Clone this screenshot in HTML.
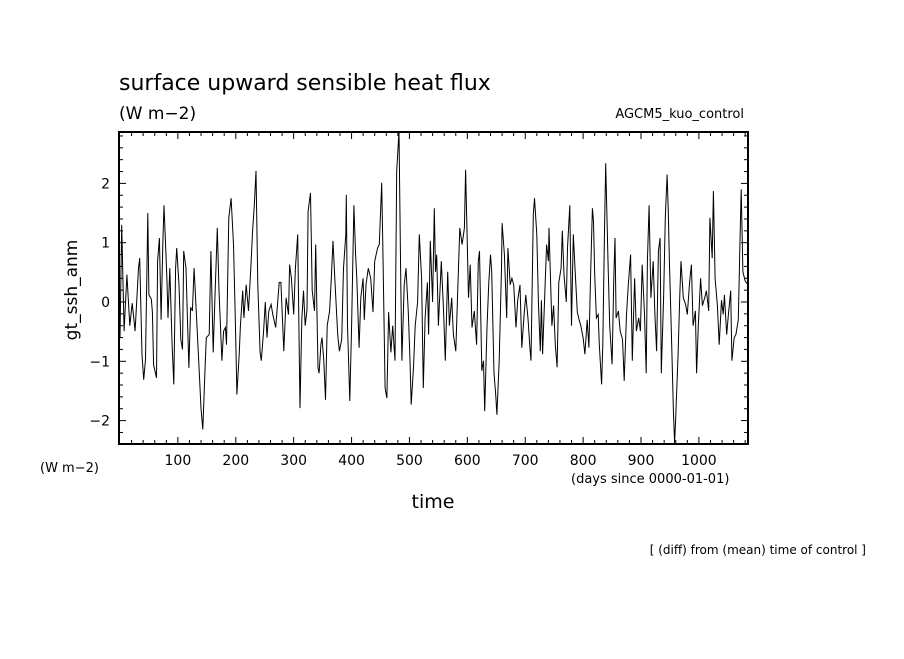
<!DOCTYPE html>
<html><head><meta charset="utf-8"><style>
body{margin:0;background:#fff;}
svg text{font-family:"DejaVu Sans","Liberation Sans",sans-serif;fill:#000;}
</style></head><body>
<svg width="904" height="654" viewBox="0 0 904 654" xmlns="http://www.w3.org/2000/svg">
<text x="119" y="90" font-size="22">surface upward sensible heat flux</text>
<text x="119" y="119" font-size="17">(W m−2)</text>
<text x="744" y="118" font-size="13" text-anchor="end">AGCM5_kuo_control</text>
<text transform="translate(77,290) rotate(-90)" font-size="17" text-anchor="middle">gt_ssh_anm</text>
<text x="40" y="472" font-size="13">(W m−2)</text>
<text x="571" y="483" font-size="13">(days since 0000-01-01)</text>
<text x="433" y="508" font-size="19" text-anchor="middle">time</text>
<text x="866" y="554" font-size="12" text-anchor="end">[ (diff) from (mean) time of control ]</text>
<g id="axes"></g>
<path id="series" fill="none" stroke="#000" stroke-width="1"/>
<rect x="119" y="132" width="629" height="312" fill="none" stroke="#000" stroke-width="2"/>
</svg>
<script>
const days=[0,3,7,12,17,21,26,32,34,38,41,44,48,50,54,56,58,63,65,68,71,74,76,81,83,86,90,93,96,98,102,105,108,110,114,117,119,122,125,128,132,136,140,143,147,149,154,157,161,164,168,171,176,179,182,184,188,192,196,199,202,206,208,212,214,218,222,226,229,232,235,238,242,244,248,251,254,257,261,264,269,272,275,278,283,287,291,293,296,300,303,307,309,311,314,317,320,323,325,329,332,336,338,342,344,347,349,352,355,358,362,365,368,371,376,379,383,386,390,391,393,397,400,404,407,409,413,416,420,422,425,429,433,437,440,445,448,452,454,458,461,464,468,471,475,478,482,485,487,491,494,498,501,503,507,510,514,517,521,524,527,531,533,536,540,543,545,547,550,555,559,562,566,569,573,576,580,583,587,591,595,597,602,605,608,612,616,619,621,625,628,630,634,637,640,642,646,649,651,655,659,660,664,668,670,674,677,680,684,687,691,694,698,701,705,708,710,714,716,720,723,726,728,730,734,737,740,741,746,749,752,755,758,762,764,767,771,773,777,780,783,786,790,793,796,800,803,807,810,813,816,818,820,823,826,828,832,834,837,839,843,846,850,853,855,857,861,864,868,871,875,878,882,885,889,892,896,899,902,906,909,911,914,917,921,924,927,930,933,935,939,942,945,947,949,953,956,958,960,964,967,969,973,977,980,984,987,990,994,996,999,1003,1006,1010,1013,1017,1019,1023,1025,1028,1032,1035,1039,1042,1044,1048,1051,1055,1057,1061,1064,1068,1071,1073,1076,1080,1084];
const values=[-0.61,1.3,-0.49,0.46,-0.4,-0.02,-0.49,0.57,0.74,-0.89,-1.31,-0.97,1.5,0.12,0.05,-0.17,-1.06,-1.28,0.69,1.08,-0.3,0.97,1.63,0.4,-0.27,0.57,-0.72,-1.39,0.57,0.91,0.29,-0.63,-0.8,0.86,0.57,-0.43,-1.11,-0.09,-0.15,0.57,-0.21,-0.99,-1.79,-2.15,-1.1,-0.6,-0.55,0.86,-0.85,0.05,1.25,0.19,-0.99,-0.49,-0.43,-0.72,1.42,1.75,0.97,-0.21,-1.56,-0.85,-0.4,0.19,-0.27,0.29,-0.15,0.57,1.2,1.63,2.21,0.29,-0.85,-0.99,-0.49,0,-0.6,-0.15,-0.04,-0.21,-0.43,-0.04,0.33,0.33,-0.83,0.07,-0.21,0.63,0.4,-0.21,0.57,1.14,-0.4,-1.79,-0.3,0.19,-0.4,-0.13,1.53,1.84,0.19,-0.15,0.97,-1.11,-1.2,-0.72,-0.6,-0.99,-1.65,-0.4,-0.15,0.4,1.03,0.4,-0.55,-0.83,-0.63,0.57,1.14,1.81,-0.4,-1.67,-0.4,1.63,0.8,0.4,-0.77,0.07,0.4,-0.3,0.29,0.57,0.4,-0.17,0.69,0.91,0.97,2.01,0.97,-1.45,-1.62,-0.17,-0.85,-0.4,-0.99,2.21,2.88,0.29,-0.99,0.29,0.57,-0.17,-0.99,-1.73,-1.1,-0.4,0,1.14,0.4,-1.45,-0.27,0.33,-0.55,1.03,0,1.58,0.51,0.8,-0.4,0.69,-0.17,-0.99,0.51,-0.4,0.07,-0.55,-0.83,0.07,1.25,0.97,1.25,2.23,0.07,0.63,-0.43,-0.15,-0.72,0.69,0.86,-1.16,-0.99,-1.84,-0.43,0.33,0.8,0.51,-1.2,-1.56,-1.9,-0.99,0.57,1.33,0.8,-0.27,0.91,0.29,0.4,0.29,-0.43,0.03,0.29,-0.77,-0.21,0.12,-0.3,-0.77,-0.99,1.47,1.75,1.14,-0.06,-0.83,0.03,-0.88,0.19,0.97,0.69,1.25,-0.4,-0.06,-0.72,-1.1,0.33,0.57,1.2,0.46,0,0.91,1.63,-0.4,1.14,0.57,-0.17,-0.3,-0.4,-0.6,-0.88,-0.3,-0.77,0.46,1.58,1.36,0.46,-0.27,-0.21,-0.72,-1.39,-0.72,1.2,2.34,0.69,-0.4,-1.05,0.4,1.08,-0.27,-0.15,-0.49,-0.63,-1.33,-0.21,0.29,0.8,-0.99,0.4,-0.49,-0.27,-0.49,0.63,-0.21,-1.2,0.69,1.63,0.07,0.69,-0.21,-0.83,0.86,1.08,-1.2,0.07,1.42,2.15,1.58,0.69,-0.72,-1.84,-2.38,-1.95,-0.88,0.12,0.69,0.07,-0.04,-0.21,0.33,0.63,-0.4,-0.15,-1.2,-0.4,0.4,-0.06,0.07,0.19,-0.15,1.42,0.74,1.87,0.4,-0.06,-0.72,0.03,-0.21,0.12,-0.55,-0.21,0.19,-0.99,-0.6,-0.55,-0.3,1.03,1.9,0.51,0.35,0.3];
const xTicks=[100,200,300,400,500,600,700,800,900,1000];
const yTicks=[-2,-1,0,1,2];
const X0=120,XS=0.5789,Y0=302,YS=59.3,XMAX=1085;
const sx=d=>X0+d*XS, sy=v=>Y0-v*YS;
const NS="http://www.w3.org/2000/svg";
const ax=document.getElementById('axes');
function ln(x1,y1,x2,y2,w,name){const l=document.createElementNS(NS,'line');l.setAttribute('x1',x1);l.setAttribute('y1',y1);l.setAttribute('x2',x2);l.setAttribute('y2',y2);l.setAttribute('stroke','#000');l.setAttribute('stroke-width',w);


ax.appendChild(l);}
for(let d=20;d<XMAX;d+=20){const x=sx(d);const maj=d%100===0;const L=maj?7:4;ln(x,444,x,444-L,1,'x-tick');ln(x,132,x,132+L,1,'x-tick-top');}
xTicks.forEach(t=>{const tx=document.createElementNS(NS,'text');tx.setAttribute('x',sx(t));tx.setAttribute('y',465);tx.setAttribute('font-size','14');tx.setAttribute('text-anchor','middle');tx.textContent=t;


ax.appendChild(tx);});
for(let v=-2.2;v<=2.81;v+=0.2){const y=sy(v);const maj=Math.abs(v-Math.round(v))<0.01;const L=maj?7:4;ln(119,y,119+L,y,1,'y-tick');ln(748,y,748-L,y,1,'y-tick-right');}
yTicks.forEach(t=>{const tx=document.createElementNS(NS,'text');tx.setAttribute('x',110);tx.setAttribute('y',sy(t)+5);tx.setAttribute('font-size','14');tx.setAttribute('text-anchor','end');tx.textContent=t<0?'−'+Math.abs(t):t;


ax.appendChild(tx);});
let d='';days.forEach((dd,i)=>{d+=(i?'L':'M')+sx(dd).toFixed(1)+' '+sy(values[i]).toFixed(1);});
document.getElementById('series').setAttribute('d',d);
</script>
</body></html>
